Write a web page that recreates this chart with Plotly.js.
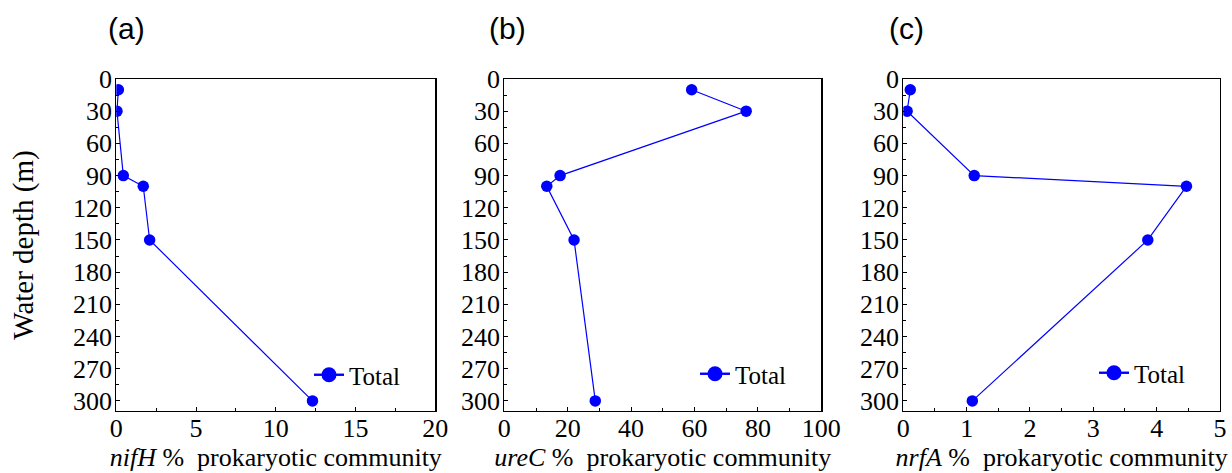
<!DOCTYPE html>
<html><head><meta charset="utf-8">
<script src="https://cdn.plot.ly/plotly-3.0.1.min.js"></script>
<style>body{margin:0;background:#fff}#chart{width:1232px;height:473px}</style>
</head><body><div id="chart"></div>
<script>
// Data
const depth = [10, 30, 90, 100, 150, 300];
const nifH = [0.13, 0.04, 0.44, 1.69, 2.09, 12.3];
const ureC = [59.1, 76.3, 17.6, 13.4, 22.0, 28.7];
const nrfA = [0.11, 0.06, 1.12, 4.47, 3.86, 1.09];
const panelLabels = ['(a)', '(b)', '(c)'];
const geneNames = ['nifH', 'ureC', 'nrfA'];
const xRanges = [[0, 20], [0, 100], [0, 5]];
const xDticks = [5, 20, 1];
const seriesName = 'Total';

const W = 1232, H = 473;
const blue = '#0000FF';
const serif = 'Liberation Serif';
const xDomains = [[116.3 / W, 435.3 / W], [504.3 / W, 821.3 / W], [903.3 / W, 1220 / W]];
const yDomain = [1 - 411 / H, 1 - 79 / H];
const series = [nifH, ureC, nrfA];

const traces = [];
const layout = {
  width: W, height: H,
  margin: {l: 0, r: 0, t: 0, b: 0},
  paper_bgcolor: '#fff', plot_bgcolor: '#fff',
  font: {family: serif, size: 24, color: '#000'},
  annotations: [],
  showlegend: true
};
const legendCenters = [[327, 375], [713, 374], [1112, 373]];

for (let i = 0; i < 3; i++) {
  const sfx = i === 0 ? '' : String(i + 1);
  const lg = 'legend' + sfx;
  traces.push({
    x: series[i], y: depth, xaxis: 'x' + sfx, yaxis: 'y' + sfx,
    type: 'scatter', mode: 'lines+markers', name: seriesName, showlegend: false,
    line: {color: blue, width: 1.2}, marker: {color: blue, size: 11.5}
  });
  // legend entry styled like the reference key
  traces.push({
    x: [null], y: [null], xaxis: 'x' + sfx, yaxis: 'y' + sfx,
    type: 'scatter', mode: 'lines+markers', name: seriesName, legend: lg,
    line: {color: blue, width: 2.4}, marker: {color: blue, size: 15}, hoverinfo: 'skip'
  });
  layout['xaxis' + sfx] = {
    domain: xDomains[i], anchor: 'y' + sfx, range: xRanges[i],
    tick0: 0, dtick: xDticks[i], ticks: 'inside', ticklen: 4, tickwidth: 1, tickcolor: '#000',
    minor: {dtick: xDticks[i] / 2, ticks: 'inside', ticklen: 3, tickcolor: '#000'},
    showline: true, linecolor: '#000', linewidth: 1.2, mirror: true, showgrid: false, zeroline: false,
    tickfont: {family: serif, size: 26, color: '#000'}, ticklabelstandoff: -6,
    title: {text: '<i>' + geneNames[i] + '</i> %\u00a0 prokaryotic community', font: {family: serif, size: 26, color: '#000'}, standoff: 2}
  };
  layout['yaxis' + sfx] = {
    domain: yDomain, anchor: 'x' + sfx, range: [309.4, 0],
    tick0: 0, dtick: 30, ticks: 'inside', ticklen: 4, tickwidth: 1, tickcolor: '#000',
    minor: {dtick: 15, ticks: 'inside', ticklen: 3, tickcolor: '#000'},
    showline: true, linecolor: '#000', linewidth: 1.2, mirror: true, showgrid: false, zeroline: false,
    tickfont: {family: serif, size: 26, color: '#000'}, ticklabelstandoff: -2
  };
  if (i === 0) {
    layout.yaxis.title = {text: 'Water depth (m)', font: {family: serif, size: 29, color: '#000'}, standoff: 30};
  }
  layout[lg] = {
    x: (legendCenters[i][0] - 18) / W, xanchor: 'left',
    y: 1 - legendCenters[i][1] / H, yanchor: 'middle',
    bgcolor: 'rgba(0,0,0,0)', borderwidth: 0,
    font: {family: serif, size: 25, color: '#000'}
  };
  const xc = [126, 507, 906][i];
  layout.annotations.push({
    text: panelLabels[i], xref: 'paper', yref: 'paper', x: xc / W, y: 1 - 28 / H,
    xanchor: 'center', yanchor: 'middle', showarrow: false,
    font: {family: 'Liberation Sans', size: 30, color: '#000'}
  });
}

Plotly.newPlot('chart', traces, layout, {staticPlot: true});
</script></body></html>
